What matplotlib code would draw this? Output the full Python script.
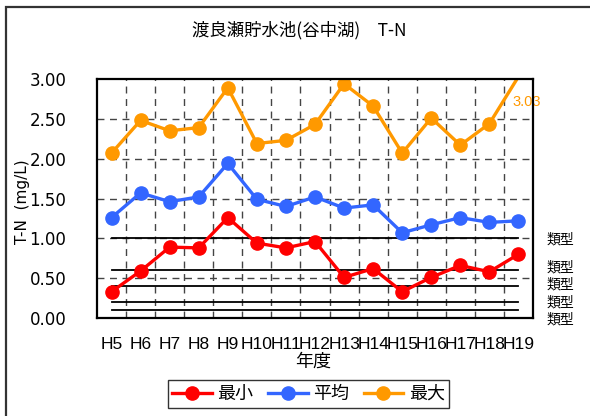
import matplotlib
matplotlib.use("Agg")
import matplotlib.pyplot as plt
from matplotlib.patches import Rectangle
from matplotlib.transforms import blended_transform_factory
import numpy as np

# ---- data ----
years = ["H5", "H6", "H7", "H8", "H9", "H10", "H11", "H12", "H13", "H14",
         "H15", "H16", "H17", "H18", "H19"]
tn_min = [0.33, 0.59, 0.89, 0.88, 1.26, 0.94, 0.88, 0.96, 0.51, 0.62,
          0.33, 0.51, 0.66, 0.58, 0.80]
tn_mean = [1.26, 1.57, 1.46, 1.52, 1.94, 1.49, 1.40, 1.52, 1.38, 1.42,
           1.07, 1.17, 1.26, 1.20, 1.22]
tn_max = [2.07, 2.48, 2.35, 2.39, 2.89, 2.19, 2.23, 2.43, 2.94, 2.66,
          2.07, 2.51, 2.17, 2.44, 3.03]
standards = [1.0, 0.6, 0.4, 0.2, 0.1]
standard_labels = ["類型", "類型", "類型", "類型", "類型"]
yticks = [0.0, 0.5, 1.0, 1.5, 2.0, 2.5, 3.0]

title = "渡良瀬貯水池(谷中湖)\u3000T-N"
ylabel = "T-N  (mg/L)"
xlabel = "年度"
series_names = ["最小", "平均", "最大"]

CJK = ["Noto Sans CJK JP", "DejaVu Sans"]

fig = plt.figure(figsize=(5.9, 4.16), dpi=100)
W, H = 590, 416
ax = fig.add_axes([97 / W, 1 - 318 / H, (533 - 97) / W, (318 - 79) / H])

x = np.arange(len(years))
ymax = 3.0

# grid
for xb in np.arange(0.5, len(years) - 0.5, 1.0):
    ax.axvline(xb, color="#444444", lw=1.0, ls=(0, (5, 4)), zorder=1)
for yv in yticks[1:-1]:
    ax.axhline(yv, color="#444444", lw=1.0, ls=(0, (5, 4)), zorder=1)

# environmental standard lines
for s in standards:
    ax.plot([x[0], x[-1]], [s, s], color="black", lw=1.3, zorder=2)

colors = ["#FF0000", "#3366FF", "#FF9900"]
for vals, c, name in zip([tn_min, tn_mean, tn_max], colors, series_names):
    vals = np.array(vals)
    ax.plot(x, vals, color=c, lw=2.4, zorder=4)
    inside = vals <= ymax
    ax.plot(x[inside], vals[inside], ls="none", marker="o", ms=9.5,
            color=c, zorder=5)
    ax.plot([], [], color=c, lw=2.4, marker="o", ms=9.5, label=name)

# value label for clipped point
ax.text(x[-1] - 0.2, 2.71, f"{tn_max[-1]:.2f}", color="#FF9900",
        fontsize=10.5, family="Liberation Sans", ha="left", va="center",
        clip_on=False, zorder=6)

ax.set_xlim(-0.5, len(years) - 0.5)
ax.set_ylim(0, ymax)
ax.set_xticks(x)
ax.set_xticklabels(years, family="Liberation Sans", fontsize=12.5)
ax.set_yticks(yticks)
ax.set_yticklabels([f"{v:.2f}" for v in yticks], family="DejaVu Sans",
                   fontsize=12)
ax.tick_params(axis="both", length=0)
ax.tick_params(axis="y", pad=22)
ax.tick_params(axis="x", pad=14)
for sp in ax.spines.values():
    sp.set_linewidth(1.6)
    sp.set_color("black")
    sp.set_zorder(6)

# lake type labels on right
trans = blended_transform_factory(ax.transAxes, ax.transData)
label_y = [0.98, 0.63, 0.415, 0.20, -0.015]
for ly, lab in zip(label_y, standard_labels):
    ax.text(1.03, ly, lab, transform=trans, family=CJK, fontsize=10,
            ha="left", va="center", clip_on=False)

fig.text(0.508, 1 - 30 / H, title, family=CJK, fontsize=12.5,
         ha="center", va="center")
fig.text(23 / W, 1 - 202 / H, ylabel, family="DejaVu Sans", fontsize=11,
         rotation=90, ha="center", va="center")
fig.text(313 / W, 1 - 362 / H, xlabel, family=CJK, fontsize=13,
         ha="center", va="center")

leg = fig.legend(loc="center", bbox_to_anchor=(308.5 / W, 1 - 394 / H),
                 ncol=3, prop={"family": CJK, "size": 13}, frameon=True,
                 fancybox=False, edgecolor="black", handlelength=2.2,
                 handletextpad=0.3, columnspacing=0.8, borderpad=0.25,
                 borderaxespad=0)
leg.get_frame().set_linewidth(1.0)

fig.patches.append(Rectangle((6 / W, -0.1), 1.2, 1 - 7 / H + 0.1,
                             transform=fig.transFigure, fill=False,
                             lw=1.6, ec="#333333"))

fig.savefig("out.png", dpi=100)
